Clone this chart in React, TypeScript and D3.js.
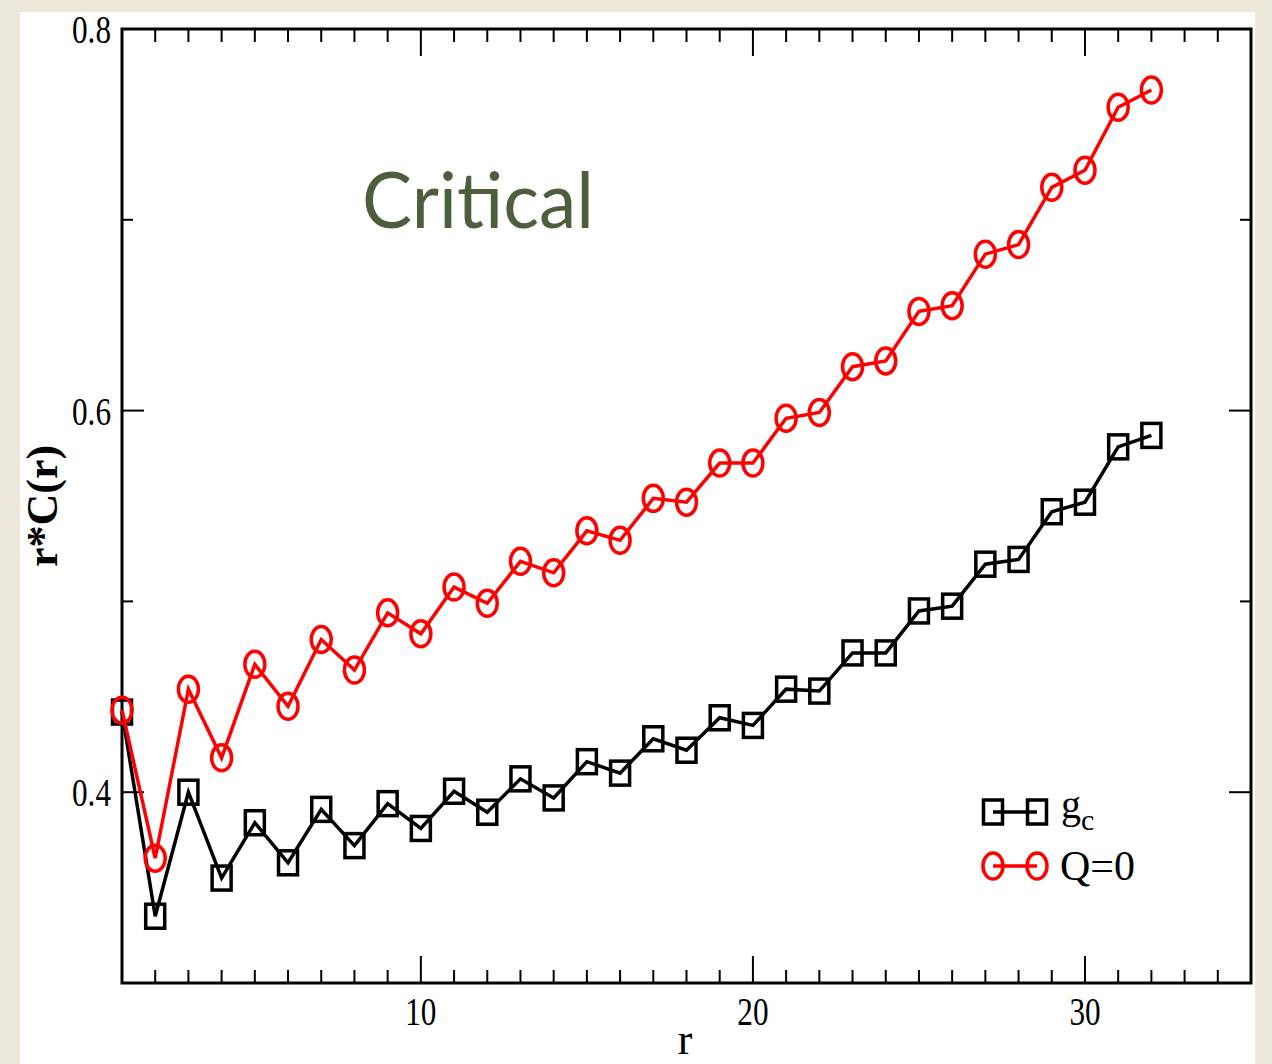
import React from "react";
import * as d3 from "d3";

const rValues = [1,2,3,4,5,6,7,8,9,10,11,12,13,14,15,16,17,18,19,20,21,22,23,24,25,26,27,28,29,30,31,32];
const gcValues = [0.442,0.335,0.400,0.355,0.384,0.363,0.391,0.372,0.394,0.381,0.4005,0.3895,0.407,0.397,0.416,0.410,0.428,0.422,0.439,0.435,0.454,0.453,0.473,0.473,0.495,0.4975,0.5195,0.522,0.547,0.552,0.581,0.587];
const q0Values = [0.443,0.3654,0.454,0.418,0.467,0.445,0.480,0.464,0.494,0.483,0.5075,0.499,0.521,0.515,0.537,0.532,0.554,0.552,0.5725,0.5725,0.596,0.599,0.623,0.626,0.652,0.655,0.682,0.687,0.717,0.726,0.759,0.768];
const xMajorTicks = [10, 20, 30];
const xMinorTicks = [2,3,4,5,6,7,8,9,11,12,13,14,15,16,17,18,19,21,22,23,24,25,26,27,28,29,31,32,33,34];
const yMajorTicks = [0.4, 0.6, 0.8];
const yMinorTicks = [0.5, 0.7];
const seriesNames = ["g", "Q=0"];

export default function App() {
  const L = 122, R = 1251, T = 29, B = 983;
  const x = d3.scaleLinear().domain([1, 35]).range([L, R]);
  const y = d3.scaleLinear().domain([0.3, 0.8]).range([B, T]);
  const line = d3.line<number>().x((_, i) => x(rValues[i])).y((d) => y(d));
  const serif = "'Liberation Serif', 'Times New Roman', serif";
  const sw = 3.5;
  const sqW = 19, sqH = 24;
  const ex = 10, ey = 13;

  const square = (cx: number, cy: number, key: any) => (
    <rect key={key} x={cx - sqW / 2} y={cy - sqH / 2} width={sqW} height={sqH} fill="none" stroke="#000" strokeWidth={sw} />
  );
  const ellipse = (cx: number, cy: number, key: any) => (
    <ellipse key={key} cx={cx} cy={cy} rx={ex} ry={ey} fill="none" stroke="#ff0000" strokeWidth={sw} />
  );

  return (
    <svg width={1272} height={1064} style={{ position: "absolute", left: 0, top: 0 }}>
      <rect x={0} y={0} width={1272} height={1064} fill="#ebe8da" />
      <rect x={20} y={12} width={1235} height={1052} fill="#ffffff" />

      {xMajorTicks.map((t) => (
        <g key={"xM" + t}>
          <line x1={x(t)} x2={x(t)} y1={B} y2={B - 27} stroke="#000" strokeWidth={2} />
          <line x1={x(t)} x2={x(t)} y1={T} y2={T + 27} stroke="#000" strokeWidth={2} />
          <text transform={`translate(${x(t)},${1025}) scale(0.78,1)`} textAnchor="middle" fontFamily={serif} fontSize={40} fill="#000">{t}</text>
        </g>
      ))}
      {xMinorTicks.map((t) => (
        <g key={"xm" + t}>
          <line x1={x(t)} x2={x(t)} y1={B} y2={B - 13} stroke="#000" strokeWidth={2} />
          <line x1={x(t)} x2={x(t)} y1={T} y2={T + 13} stroke="#000" strokeWidth={2} />
        </g>
      ))}
      {yMajorTicks.map((t) => (
        <g key={"yM" + t}>
          <line x1={L} x2={L + 22} y1={y(t)} y2={y(t)} stroke="#000" strokeWidth={2} />
          <line x1={R} x2={R - 22} y1={y(t)} y2={y(t)} stroke="#000" strokeWidth={2} />
          <text transform={`translate(${111},${y(t) + 14}) scale(0.78,1)`} textAnchor="end" fontFamily={serif} fontSize={40} fill="#000">{t.toFixed(1)}</text>
        </g>
      ))}
      {yMinorTicks.map((t) => (
        <g key={"ym" + t}>
          <line x1={L} x2={L + 11} y1={y(t)} y2={y(t)} stroke="#000" strokeWidth={2} />
          <line x1={R} x2={R - 11} y1={y(t)} y2={y(t)} stroke="#000" strokeWidth={2} />
        </g>
      ))}

      <rect x={L} y={T} width={R - L} height={B - T} fill="none" stroke="#000" strokeWidth={3} />

      <text x={685} y={1054} textAnchor="middle" fontFamily={serif} fontSize={44} fill="#000">r</text>
      <text transform="translate(57,506) rotate(-90)" textAnchor="middle" fontFamily={serif} fontSize={44} fontWeight="bold" fill="#000">r*C(r)</text>

      <text x={362} y={228} fontFamily="Lato, 'Open Sans', sans-serif" fontSize={78} fill="#4e5d3b" textLength={232} lengthAdjust="spacingAndGlyphs">Critical</text>

      <path d={line(gcValues) || ""} fill="none" stroke="#000" strokeWidth={sw} />
      {gcValues.map((v, i) => square(x(rValues[i]), y(v), "s" + i))}
      <path d={line(q0Values) || ""} fill="none" stroke="#ff0000" strokeWidth={sw} />
      {q0Values.map((v, i) => ellipse(x(rValues[i]), y(v), "c" + i))}

      <line x1={993} x2={1037} y1={812} y2={812} stroke="#000" strokeWidth={sw} />
      {square(993, 812, "ls1")}
      {square(1037, 812, "ls2")}
      <text x={1061} y={818} fontFamily={serif} fontSize={40} fill="#000">{seriesNames[0]}<tspan dy={12} fontSize={30}>c</tspan></text>
      <line x1={993} x2={1037} y1={866} y2={866} stroke="#ff0000" strokeWidth={sw} />
      {ellipse(993, 866, "le1")}
      {ellipse(1037, 866, "le2")}
      <text x={1060} y={880} fontFamily={serif} fontSize={42} fill="#000">{seriesNames[1]}</text>
    </svg>
  );
}
